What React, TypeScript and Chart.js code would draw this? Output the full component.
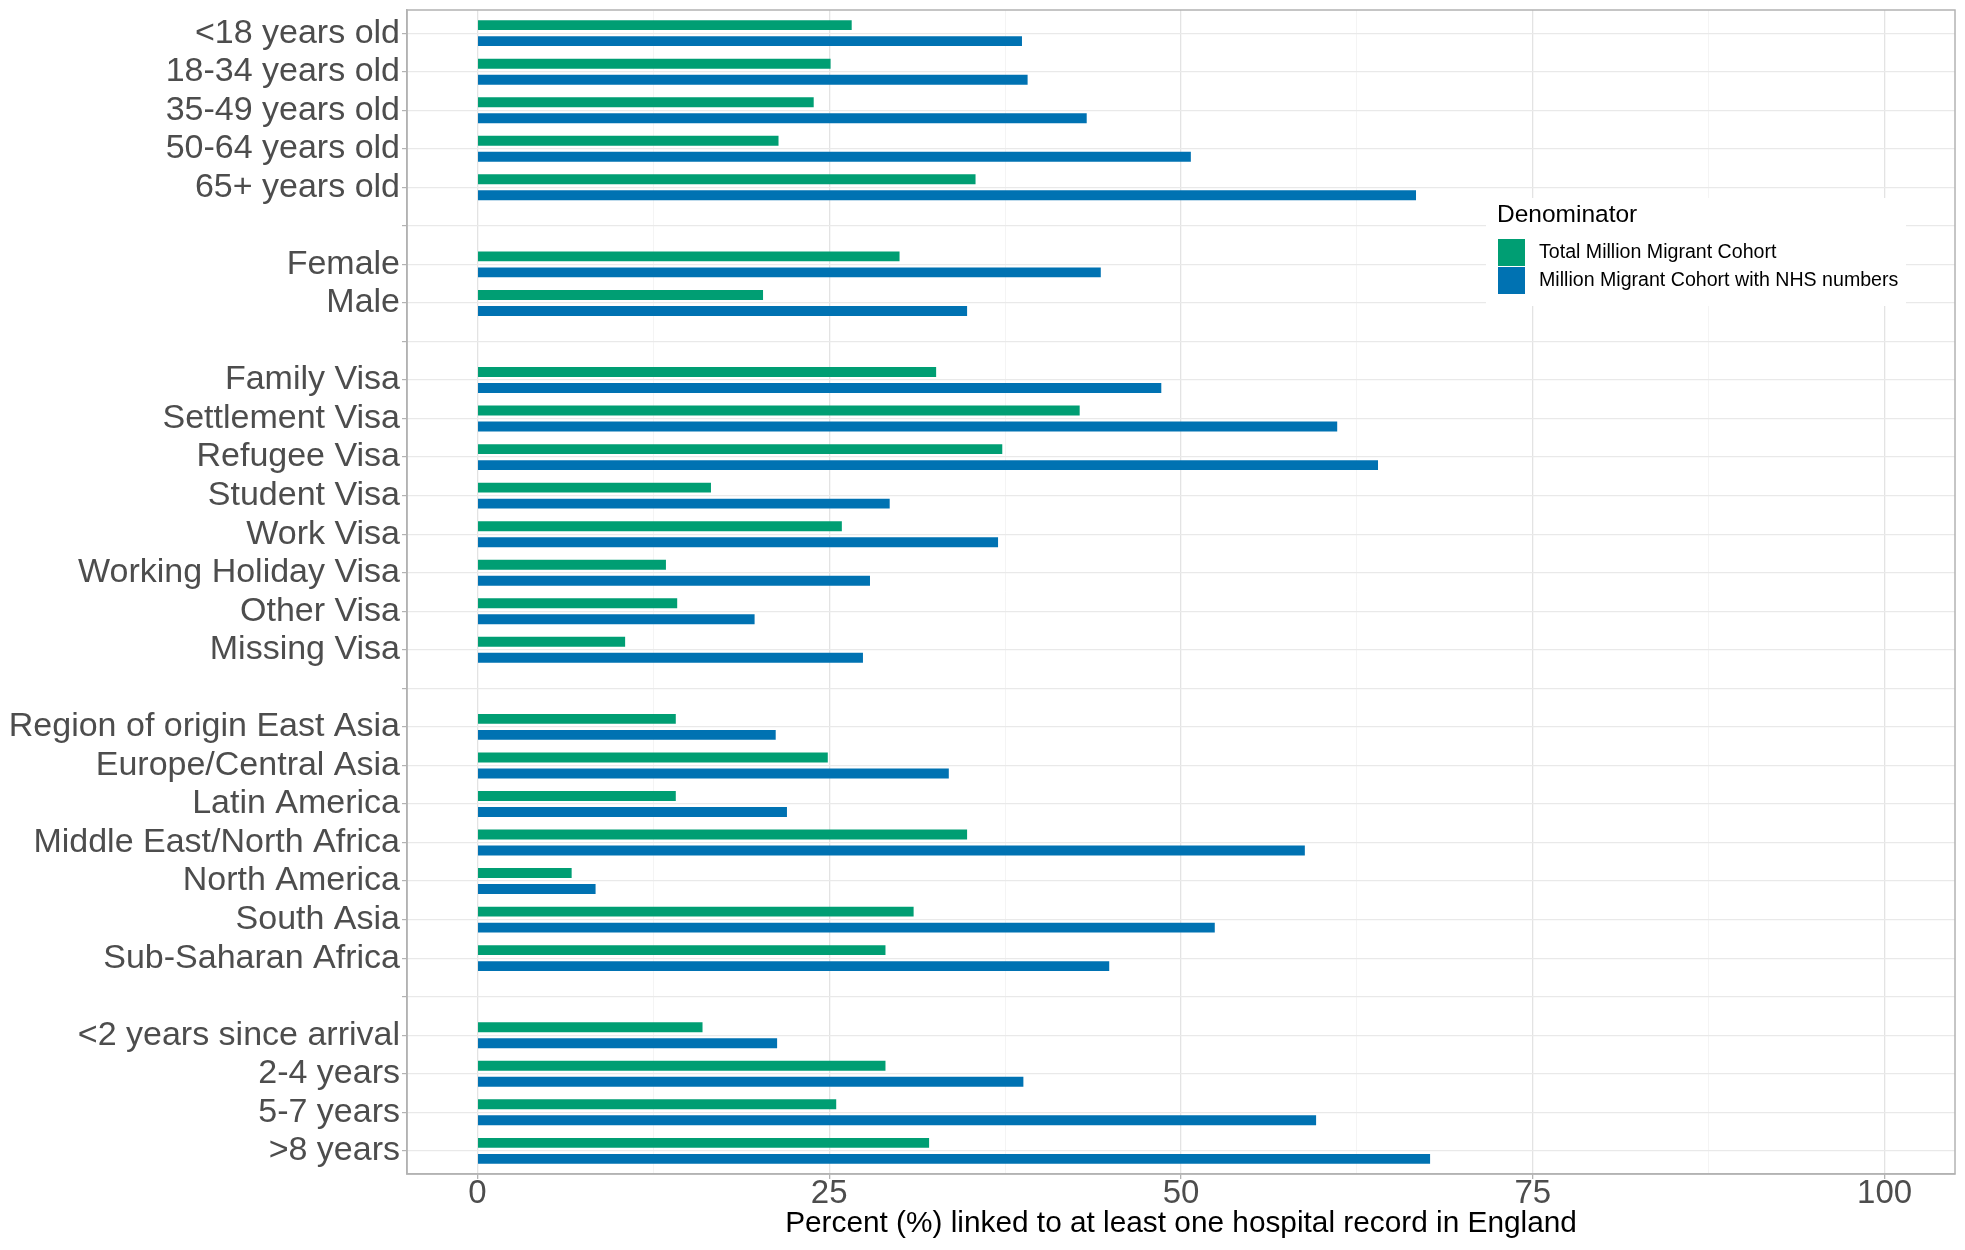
import { useEffect, useRef } from 'react';
import { Chart, registerables } from 'chart.js';

Chart.register(...registerables);

// blank entries are the spacer rows between groups
const categories = [
    '<18 years old', '18-34 years old', '35-49 years old', '50-64 years old', '65+ years old',
    '',
    'Female', 'Male',
    '',
    'Family Visa', 'Settlement Visa', 'Refugee Visa', 'Student Visa', 'Work Visa',
    'Working Holiday Visa', 'Other Visa', 'Missing Visa',
    '',
    'Region of origin East Asia', 'Europe/Central Asia', 'Latin America', 'Middle East/North Africa',
    'North America', 'South Asia', 'Sub-Saharan Africa',
    '',
    '<2 years since arrival', '2-4 years', '5-7 years', '>8 years'
];

const totalCohort = [
    26.6, 25.1, 23.9, 21.4, 35.4,
    null,
    30.0, 20.3,
    null,
    32.6, 42.8, 37.3, 16.6, 25.9, 13.4, 14.2, 10.5,
    null,
    14.1, 24.9, 14.1, 34.8, 6.7, 31.0, 29.0,
    null,
    16.0, 29.0, 25.5, 32.1
];

const nhsCohort = [
    38.7, 39.1, 43.3, 50.7, 66.7,
    null,
    44.3, 34.8,
    null,
    48.6, 61.1, 64.0, 29.3, 37.0, 27.9, 19.7, 27.4,
    null,
    21.2, 33.5, 22.0, 58.8, 8.4, 52.4, 44.9,
    null,
    21.3, 38.8, 59.6, 67.7
];

const seriesNames = ['Total Million Migrant Cohort', 'Million Migrant Cohort with NHS numbers'];
const seriesColors = ['#009E73', '#0072B2'];
const xTicks = [0, 12.5, 25, 37.5, 50, 62.5, 75, 87.5, 100];

const FONT = '"Liberation Sans", Arial, sans-serif';

const toPoints = (values: (number | null)[]) =>
    values
        .map((v, i) => (v == null ? null : { x: v, y: i }))
        .filter((p) => p !== null) as { x: number, y: number }[];

const panelBorder = {
    id: 'panelBorder',
    afterDatasetsDraw(chart: any) {
        const { ctx, chartArea } = chart;
        ctx.save();
        ctx.strokeStyle = '#B3B3B3';
        ctx.lineWidth = 1.5;
        ctx.strokeRect(chartArea.left, chartArea.top, chartArea.right - chartArea.left, chartArea.bottom - chartArea.top);
        ctx.restore();
    }
};

const denominatorLegend = {
    id: 'denominatorLegend',
    afterDraw(chart: any) {
        const { ctx } = chart;
        ctx.save();
        ctx.fillStyle = '#ffffff';
        ctx.fillRect(1486, 198, 420, 108);
        ctx.textAlign = 'left';
        ctx.textBaseline = 'middle';
        ctx.fillStyle = '#000000';
        ctx.font = `24.5px ${FONT}`;
        ctx.fillText('Denominator', 1497, 215);
        chart.data.datasets.forEach((ds: any, i: number) => {
            const y = 239 + i * 28;
            ctx.fillStyle = ds.backgroundColor;
            ctx.fillRect(1498, y, 27, 27);
            ctx.fillStyle = '#000000';
            ctx.font = `19.6px ${FONT}`;
            ctx.fillText(ds.label, 1539, y + 14);
        });
        ctx.restore();
    }
};

function LinkageChart() {
    const canvasRef = useRef<HTMLCanvasElement>(null);
    const chartRef = useRef<Chart | null>(null);

    useEffect(() => {
        if (!canvasRef.current) return;
        const ctx = canvasRef.current.getContext('2d');
        if (!ctx) return;

        if (chartRef.current) chartRef.current.destroy();

        chartRef.current = new Chart(ctx, {
            type: 'bar',
            data: {
                datasets: [
                    { label: seriesNames[0], data: toPoints(totalCohort), backgroundColor: seriesColors[0] },
                    { label: seriesNames[1], data: toPoints(nhsCohort), backgroundColor: seriesColors[1] }
                ]
            },
            options: {
                indexAxis: 'y',
                animation: false,
                responsive: false,
                devicePixelRatio: 1,
                categoryPercentage: 0.83,
                barPercentage: 0.62,
                layout: { padding: { left: 0, right: 10, top: 10, bottom: 0 } },
                plugins: {
                    legend: { display: false },
                    tooltip: { enabled: false }
                },
                scales: {
                    x: {
                        type: 'linear',
                        min: -5,
                        max: 105,
                        afterBuildTicks: (scale: any) => {
                            scale.ticks = xTicks.map((v) => ({ value: v }));
                        },
                        afterFit: (scale: any) => {
                            scale.height = 76;
                        },
                        ticks: {
                            autoSkip: false,
                            maxRotation: 0,
                            padding: -5,
                            color: '#4D4D4D',
                            font: { family: FONT, size: 33 },
                            callback: (v: any) => (Number(v) % 25 === 0 ? String(v) : '')
                        },
                        grid: {
                            color: (c: any) => (c.tick && c.tick.value % 25 === 0 ? '#E3E3E3' : '#F1F1F1'),
                            lineWidth: (c: any) => (c.tick && c.tick.value % 25 === 0 ? 1.3 : 0.8),
                            tickLength: 5,
                            tickColor: (c: any) => (c.tick && c.tick.value % 25 === 0 ? '#B3B3B3' : 'rgba(0,0,0,0)')
                        },
                        border: { display: true, color: '#B3B3B3', width: 1.5 },
                        title: {
                            display: true,
                            text: 'Percent (%) linked to at least one hospital record in England',
                            color: '#000000',
                            font: { family: FONT, size: 29.8 },
                            padding: { top: 0, bottom: 8 }
                        }
                    },
                    y: {
                        type: 'linear',
                        reverse: true,
                        offset: false,
                        min: -0.6,
                        max: categories.length - 0.4,
                        afterBuildTicks: (scale: any) => {
                            scale.ticks = categories.map((_, i) => ({ value: i }));
                        },
                        afterFit: (scale: any) => {
                            scale.width = 407;
                        },
                        ticks: {
                            autoSkip: false,
                            padding: 2,
                            color: '#4D4D4D',
                            // small line height so the outer labels don't push the panel edges in
                            font: { family: FONT, size: 34, lineHeight: 0.45 },
                            callback: (v: any) => categories[Number(v)] ?? ''
                        },
                        grid: {
                            offset: false,
                            color: '#E9E9E9',
                            lineWidth: 1.2,
                            tickLength: 5,
                            tickColor: '#B3B3B3'
                        },
                        border: { display: true, color: '#B3B3B3', width: 1.5 }
                    }
                }
            },
            plugins: [panelBorder, denominatorLegend]
        } as any);

        return () => {
            if (chartRef.current) {
                chartRef.current.destroy();
                chartRef.current = null;
            }
        };
    }, []);

    return <canvas ref={canvasRef} width={1965} height={1250} style={{ width: 1965, height: 1250 }} />;
}

export default function App() {
    return (
        <div style={{ position: 'fixed', left: 0, top: 0, width: 1965, height: 1250, background: '#ffffff' }}>
            <LinkageChart />
        </div>
    );
}
